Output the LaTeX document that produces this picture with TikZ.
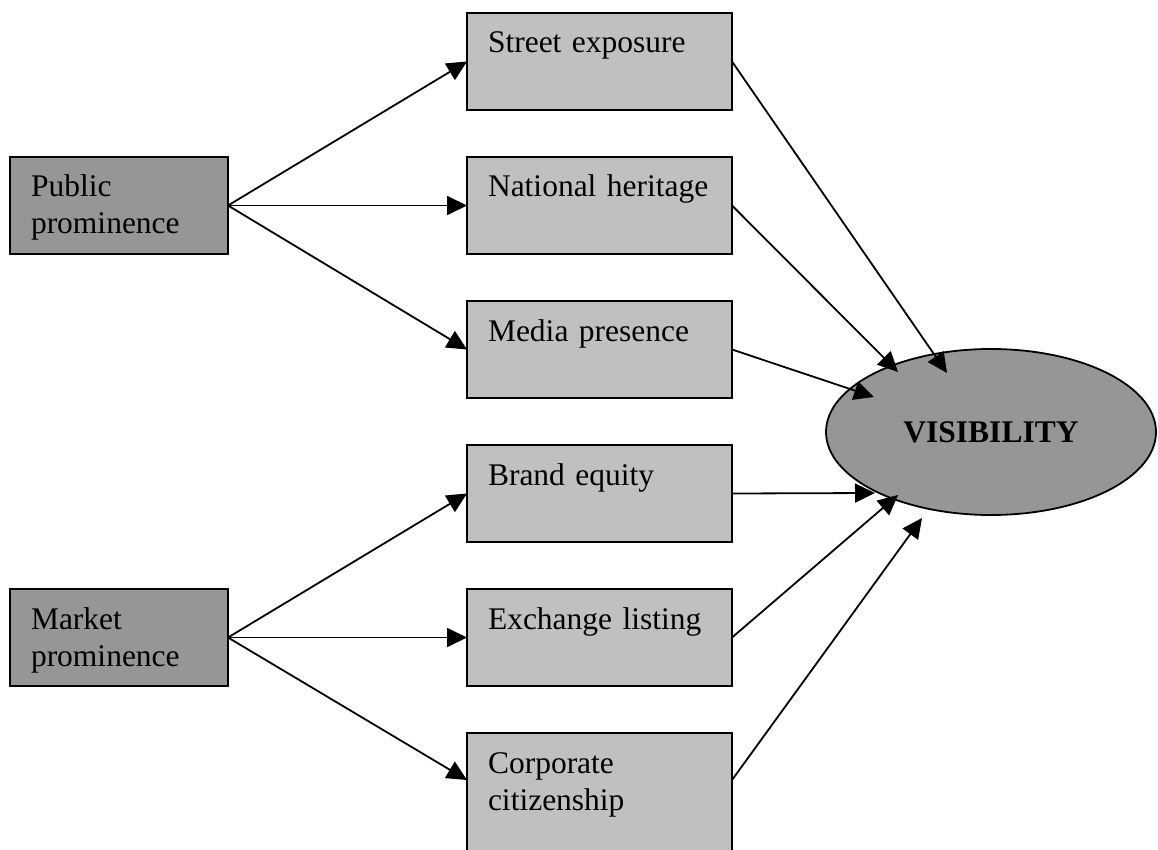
\documentclass[tikz,border=0pt]{standalone}
\usepackage{fontspec}
\setmainfont{Liberation Serif}
\usepackage{tikz}
\usetikzlibrary{arrows.meta, positioning, shapes.geometric}
\definecolor{drvfill}{HTML}{969696}
\definecolor{indfill}{HTML}{C0C0C0}

\begin{document}
\begin{tikzpicture}[
  x=1pt, y=-1pt,
  node distance=47pt,
  box/.style={draw, line width=1.8pt, anchor=north west, align=left, outer sep=0pt,
    inner xsep=21pt, inner ysep=0pt, text height=40pt, text depth=57pt,
    font=\fontsize{31.5}{37}\selectfont},
  drv/.style={box, fill=drvfill, text width=176pt},
  ind/.style={box, fill=indfill, text width=223pt},
  outcome/.style={ellipse, draw, line width=1.8pt, fill=drvfill, inner sep=0pt,
    minimum width=330pt, minimum height=166pt,
    font=\fontsize{31.5}{37}\selectfont\bfseries},
  arr/.style={-{Triangle[length=20pt, width=19pt]}, line width=1.8pt}
]
\clip (0,0) rectangle (1158,850);

% indicator column, top to bottom
\node[ind] (street) at (467,13) {Street exposure};
\node[ind, below=of street] (heritage) {National heritage};
\node[ind, below=of heritage] (media) {Media presence};
\node[ind, below=of media] (brand) {Brand equity};
\node[ind, below=of brand] (listing) {Exchange listing};
\node[ind, below=of listing, text depth=140pt] (citizen) {Corporate\\citizenship};

% the two drivers, level with the middle box of each group
\node[drv, left=239pt of heritage] (pub) {Public\\prominence};
\node[drv, left=239pt of listing] (mkt) {Market\\prominence};

\node[outcome] (vis) at (991,432) {VISIBILITY};

% where the arrow tips sit on the ellipse
\coordinate (tipStreet) at (947,373);
\coordinate (tipHeritage) at (898,372);
\coordinate (tipMedia) at (874,397);
\coordinate (tipBrand) at (875,493);
\coordinate (tipListing) at (898,495);
\coordinate (tipCitizen) at (922,518);

\foreach \t in {street,heritage,media} \draw[arr] (pub.east) -- (\t.west);
\draw[arr] (mkt.east) -- (brand.west);
\draw[arr] (mkt.east) -- (listing.west);
\draw[arr] (mkt.east) -- ([yshift=-47pt]citizen.north west);

\draw[arr] (street.east) -- (tipStreet);
\draw[arr] (heritage.east) -- (tipHeritage);
\draw[arr] (media.east) -- (tipMedia);
\draw[arr] (brand.east) -- (tipBrand);
\draw[arr] (listing.east) -- (tipListing);
\draw[arr] ([yshift=-47pt]citizen.north east) -- (tipCitizen);
\end{tikzpicture}
\end{document}
